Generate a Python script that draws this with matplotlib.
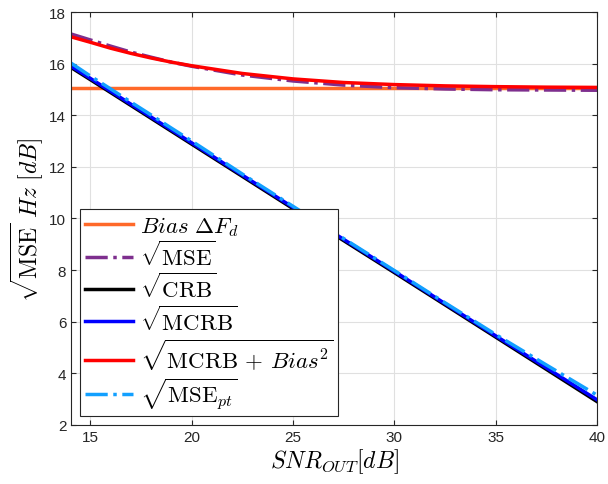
import numpy as np
import matplotlib.pyplot as plt

plt.rcParams['mathtext.fontset'] = 'cm'
plt.rcParams['font.family'] = ['Liberation Sans', 'DejaVu Sans']

# values (SNR in dB)
snr = [14.05, 15, 16, 17, 18, 19, 20, 22.5, 25, 27.5, 30, 32.5, 35, 37.5, 40]
bias = [15.07] * len(snr)
mse = [17.15, 16.92, 16.68, 16.45, 16.25, 16.06, 15.9, 15.56, 15.33, 15.17, 15.07, 15.02, 14.99, 14.98, 14.97]
mcrb_bias = [17.04, 16.83, 16.6, 16.4, 16.22, 16.06, 15.92, 15.62, 15.41, 15.27, 15.19, 15.14, 15.11, 15.09, 15.08]
crb = [15.85, 15.38, 14.88, 14.38, 13.88, 13.38, 12.88, 11.63, 10.38, 9.14, 7.9, 6.65, 5.4, 4.15, 2.9]
mcrb = [15.9, 15.43, 14.93, 14.43, 13.93, 13.43, 12.93, 11.68, 10.43, 9.19, 7.95, 6.7, 5.45, 4.21, 2.97]
mse_pt = [16.02, 15.52, 15.02, 14.51, 14.01, 13.5, 13.0, 11.72, 10.47, 9.22, 7.98, 6.73, 5.5, 4.32, 3.15]

fig = plt.figure(figsize=(6.08, 4.85), dpi=100)
ax = fig.add_axes([0.117, 0.122, 0.865, 0.851])

lw = 2.5
ax.plot(snr, bias, color='#FF6929', lw=lw, label=r'$Bias\ \Delta F_d$')
ax.plot(snr, mse, color='#7E2F8E', lw=lw, ls='-.', label=r'$\sqrt{\mathrm{MSE}}$')
ax.plot(snr, crb, color='k', lw=lw, label=r'$\sqrt{\mathrm{CRB}}$')
ax.plot(snr, mcrb, color='#0000FF', lw=lw, label=r'$\sqrt{\mathrm{MCRB}}$')
ax.plot(snr, mcrb_bias, color='#FF0000', lw=lw, label=r'$\sqrt{\mathrm{MCRB}\,+\,Bias^2}$')
ax.plot(snr, mse_pt, color='#12A0FF', lw=lw, ls='-.', label=r'$\sqrt{\mathrm{MSE}_{pt}}$')

ax.set_xlim(14.05, 40)
ax.set_ylim(2, 18)
ax.set_xticks([15, 20, 25, 30, 35, 40])
ax.set_yticks(range(2, 19, 2))
ax.grid(True, color='#E0E0E0', lw=0.8)
ax.set_axisbelow(True)
ax.tick_params(direction='in', top=True, right=True, labelsize=11, colors='#262626')
for s in ax.spines.values():
    s.set_color('#262626')
    s.set_linewidth(0.8)

ax.set_xlabel(r'$SNR_{OUT}[dB]$', fontsize=17, labelpad=2)
ax.set_ylabel(r'$\sqrt{\mathrm{MSE}}\ Hz\ [dB]$', fontsize=17, labelpad=2)

leg = ax.legend(loc='lower left', bbox_to_anchor=(0.017, 0.022), borderaxespad=0,
                fontsize=16.5, handlelength=2.1, fancybox=False, framealpha=1,
                borderpad=0.2, labelspacing=0.12, handletextpad=0.3)
leg.get_frame().set_edgecolor('#262626')
leg.get_frame().set_linewidth(0.8)

fig.savefig('out.png', dpi=100)
